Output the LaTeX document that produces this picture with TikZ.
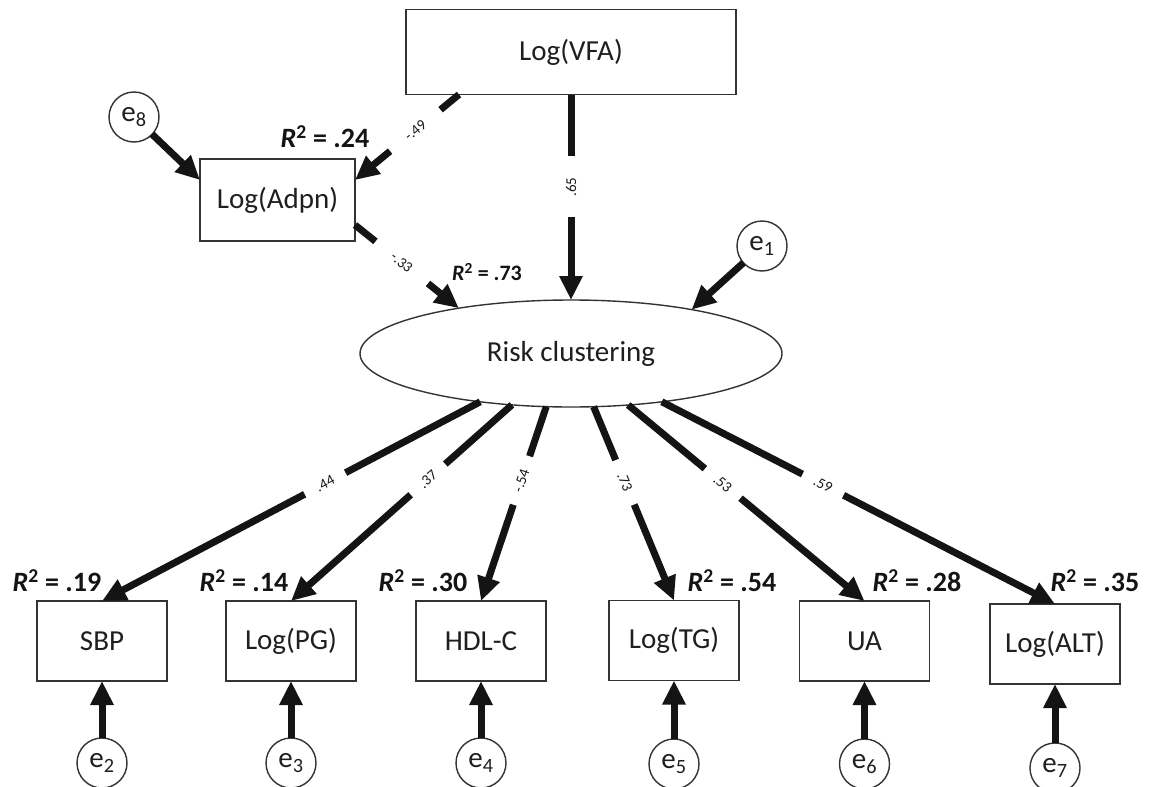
\documentclass[tikz,border=0pt]{standalone}
\usepackage{fontspec}
\setmainfont{Carlito}
\usetikzlibrary{arrows.meta,shapes.geometric,calc}
\begin{document}
\begin{tikzpicture}[x=1pt,y=-1pt,
  txt/.style={font=\fontsize{29}{34}\selectfont, text=black!88},
  box/.style={txt, draw=black!80, line width=1.4pt, rectangle, inner sep=0pt, outer sep=0pt},
  latent/.style={txt, draw=black!80, line width=1.4pt, ellipse, inner sep=0pt, outer sep=0pt,
    minimum width=422pt, minimum height=107pt},
  err/.style={txt, draw=black!80, line width=1.4pt, circle, minimum size=50pt, inner sep=0pt, outer sep=0pt},
  path/.style={line width=7pt, draw=black!92, -{Triangle[length=24pt,width=22pt]}},
  coefbase/.style={fill=white, font=\fontsize{15}{17}\selectfont, text=black!90,
    inner xsep=0pt, inner ysep=1pt, minimum width=#1},
  coefbase/.default=46pt,
  coef/.style={sloped, coefbase=#1},
  coef/.default=46pt,
  coefv/.style={rotate=90, coefbase=#1},
  coefv/.default=46pt,
  rsq/.style={font=\fontsize{28}{34}\selectfont\bfseries, text=black!92, inner sep=0pt},
]
\useasboundingbox (0,0) rectangle (1149,787);
\fill[white] (0,0) rectangle (1149,787);
\clip (0,0) rectangle (1149,787);

% observed and latent variables
\node[box, minimum width=330pt, minimum height=85pt] (vfa) at (571,52) {Log(VFA)};
\node[box, minimum width=155pt, minimum height=82pt] (adpn) at (277.5,200) {Log(Adpn)};
\node[latent] (risk) at (571,353.5) {Risk clustering};

\node[box, minimum width=130pt, minimum height=80pt] (sbp) at (102,641) {SBP};
\node[box, minimum width=130pt, minimum height=80pt] (pg)  at (291,641) {Log(PG)};
\node[box, minimum width=130pt, minimum height=80pt] (hdl) at (481,641) {HDL-C};
\node[box, minimum width=130pt, minimum height=80pt] (tg)  at (674,640.5) {Log(TG)};
\node[box, minimum width=130pt, minimum height=80pt] (ua)  at (864.5,641) {UA};
\node[box, minimum width=130pt, minimum height=80pt] (alt) at (1055,644) {Log(ALT)};

% error terms
\node[err] (e8) at (134,117) {e\textsubscript{8}};
\node[err] (e1) at (762,246) {e\textsubscript{1}};
\node[err] (e2) at (102,763) {e\textsubscript{2}};
\node[err] (e3) at (291,763) {e\textsubscript{3}};
\node[err] (e4) at (481,763) {e\textsubscript{4}};
\node[err] (e5) at (674,764) {e\textsubscript{5}};
\node[err] (e6) at (864.5,764) {e\textsubscript{6}};
\node[err] (e7) at (1055,768) {e\textsubscript{7}};

% R-squared labels
\node[rsq] (r24) at (325,137) {\textit{R}\textsuperscript{2} = .24};
\node[rsq, font=\fontsize{22}{26}\selectfont\bfseries] (r73) at (487,272) {\textit{R}\textsuperscript{2} = .73};
\node[rsq] (r19) at (57,581) {\textit{R}\textsuperscript{2} = .19};
\node[rsq] (r14) at (244,581) {\textit{R}\textsuperscript{2} = .14};
\node[rsq] (r30) at (423,581) {\textit{R}\textsuperscript{2} = .30};
\node[rsq] (r54) at (732,581) {\textit{R}\textsuperscript{2} = .54};
\node[rsq] (r28) at (917,581) {\textit{R}\textsuperscript{2} = .28};
\node[rsq] (r35) at (1095,581) {\textit{R}\textsuperscript{2} = .35};

% structural paths
\draw[path] (e8) -- ($(adpn.north west)+(0,21)$);
\draw[path] ($(vfa.south west)+(53,0)$) -- node[coef=65pt, pos=0.42] {-.49} ($(adpn.north east)+(0,21)$);
\draw[path] (vfa.south) -- node[coefv=61pt, pos=0.45] {.65} (risk.north);
\draw[path] ($(adpn.south east)+(0,-16)$) -- node[coef=67pt, pos=0.45] {-.33} (risk.158);
\draw[path] (e1) -- (risk.20);

% measurement paths
\draw[path] (risk.208) -- node[coef, pos=0.41] {.44} (sbp.north);
\draw[path] (risk.221) -- node[coef, pos=0.38] {.37} (pg.north);
\draw[path] (risk.245) -- node[coef=51pt, pos=0.38] {-.54} (hdl.north);
\draw[path] (risk.293) -- node[coef=48pt, pos=0.39] {.73} (tg.north);
\draw[path] (risk.318) -- node[coef, pos=0.40] {.53} (ua.north);
\draw[path] (risk.332) -- node[coef, pos=0.41] {.59} (alt.north);

% residual paths
\draw[path] (e2) -- (sbp.south);
\draw[path] (e3) -- (pg.south);
\draw[path] (e4) -- (hdl.south);
\draw[path] (e5) -- (tg.south);
\draw[path] (e6) -- (ua.south);
\draw[path] (e7) -- (alt.south);
\end{tikzpicture}
\end{document}
